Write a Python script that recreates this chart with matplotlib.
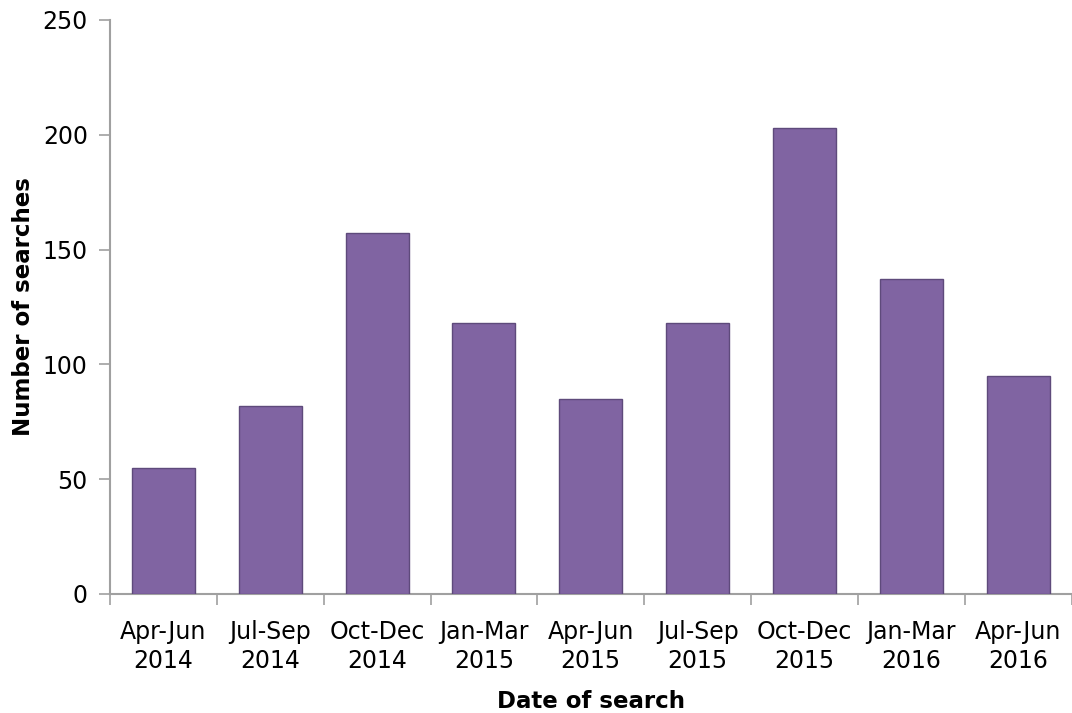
import numpy as np
import matplotlib.pyplot as plt

# Quarterly search counts
quarters = ["Apr-Jun\n2014", "Jul-Sep\n2014", "Oct-Dec\n2014", "Jan-Mar\n2015",
            "Apr-Jun\n2015", "Jul-Sep\n2015", "Oct-Dec\n2015", "Jan-Mar\n2016",
            "Apr-Jun\n2016"]
searches = [55, 82, 157, 118, 85, 118, 203, 137, 95]
yticks = [0, 50, 100, 150, 200, 250]

plt.rcParams["font.family"] = ["DejaVu Sans"]

fig = plt.figure(figsize=(10.72, 7.13), dpi=100, facecolor="white")
ax = fig.add_axes([0.1026, 0.167, 0.897, 0.805])

x = np.arange(len(quarters))
ax.bar(x, searches, width=0.59, color="#8064A2", edgecolor="#5E4A7B", linewidth=1.0, zorder=3)

ax.set_xlim(-0.5, len(quarters) - 0.5)
ax.set_ylim(0, 250)
ax.set_yticks(yticks)
ax.set_yticklabels([str(v) for v in yticks])

# category labels sit between the boundary ticks
ax.set_xticks(np.arange(len(quarters) + 1) - 0.5)
ax.set_xticklabels([])
ax.set_xticks(x, minor=True)
ax.set_xticklabels(quarters, minor=True, linespacing=1.25)
ax.tick_params(axis="x", which="minor", length=0, pad=19, labelsize=17, colors="black")
ax.tick_params(axis="x", which="major", length=8, width=1.2, color="#A0A0A0")
ax.tick_params(axis="y", length=8, width=1.2, color="#A0A0A0", pad=8, labelsize=17)

for side in ["top", "right"]:
    ax.spines[side].set_visible(False)
for side in ["left", "bottom"]:
    ax.spines[side].set_color("#A0A0A0")
    ax.spines[side].set_linewidth(1.5)

ax.set_ylabel("Number of searches", fontsize=16.5, fontweight="bold")
ax.yaxis.set_label_coords(-0.078, 0.5)
ax.set_xlabel("Date of search", fontsize=16.5, fontweight="bold", labelpad=12)

fig.savefig("out.png", dpi=100, facecolor="white")
